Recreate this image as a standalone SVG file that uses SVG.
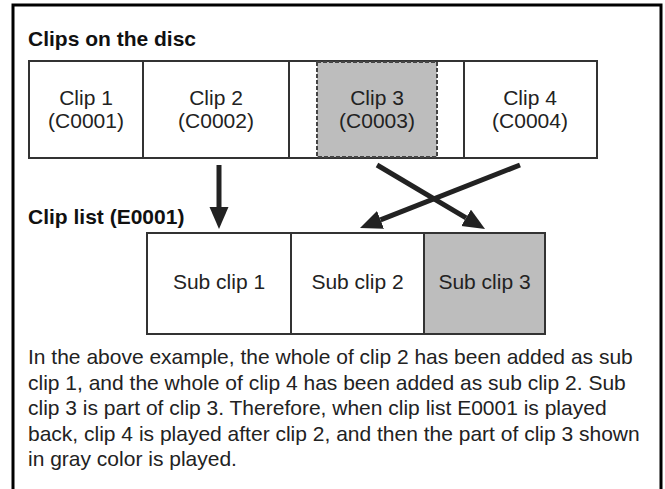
<svg xmlns="http://www.w3.org/2000/svg" width="665" height="489" viewBox="0 0 665 489">
<style>
  text { font-family: "Liberation Sans", Arial, sans-serif; font-size: 21px; fill: #222; }
  .title { font-weight: bold; fill: #111; }
  .lbl { text-anchor: middle; }
  .box { fill: #fff; stroke: #333; stroke-width: 2; }
  .gray { fill: #bdbdbd; }
  .div { stroke: #333; stroke-width: 2; fill: none; }
  .dash { fill: #bdbdbd; stroke: #444; stroke-width: 2; stroke-dasharray: 4 2; }
  .conn { stroke: #222; stroke-width: 5; fill: none; }
</style>
<defs>
  <marker id="ah" markerUnits="userSpaceOnUse" markerWidth="24" markerHeight="20" refX="0" refY="9.5" orient="auto">
    <path d="M0,0 L22,9.5 L0,19 Z" fill="#222"/>
  </marker>
</defs>
<rect width="665" height="489" fill="#fff"/>
<path d="M13,495 V5 H661 V495" fill="none" stroke="#000" stroke-width="3"/>

<text class="title" x="28" y="46">Clips on the disc</text>
<text class="title" x="28" y="224">Clip list (E0001)</text>

<g id="disc-row">
  <rect class="box" x="29" y="61" width="568" height="97"/>
  <line class="div" x1="143" y1="61" x2="143" y2="158"/>
  <line class="div" x1="289" y1="61" x2="289" y2="158"/>
  <line class="div" x1="464" y1="61" x2="464" y2="158"/>
</g>
<g id="clip1">
  <text class="lbl" x="86" y="105">Clip 1</text>
  <text class="lbl" x="86" y="128">(C0001)</text>
</g>
<g id="clip2">
  <text class="lbl" x="216" y="105">Clip 2</text>
  <text class="lbl" x="216" y="128">(C0002)</text>
</g>
<g id="clip3">
  <rect class="dash" x="317" y="62" width="120" height="95"/>
  <text class="lbl" x="377" y="105">Clip 3</text>
  <text class="lbl" x="377" y="128">(C0003)</text>
</g>
<g id="clip4">
  <text class="lbl" x="530" y="105">Clip 4</text>
  <text class="lbl" x="530" y="128">(C0004)</text>
</g>

<g id="subclip1">
  <rect class="box" x="147" y="233" width="144" height="101"/>
  <text class="lbl" x="219" y="289">Sub clip 1</text>
</g>
<g id="subclip2">
  <rect class="box" x="291" y="233" width="133" height="101"/>
  <text class="lbl" x="357.5" y="289">Sub clip 2</text>
</g>
<g id="subclip3">
  <rect class="box gray" x="424" y="233" width="121" height="101"/>
  <text class="lbl" x="484.5" y="289">Sub clip 3</text>
</g>

<g id="connectors">
  <line class="conn" x1="219" y1="165" x2="219" y2="207" marker-end="url(#ah)"/>
  <line class="conn" x1="377" y1="165" x2="466.1" y2="217.8" marker-end="url(#ah)"/>
  <line class="conn" x1="520" y1="165" x2="380.5" y2="219.9" marker-end="url(#ah)"/>
</g>

<g id="note">
  <text x="28" y="364">In the above example, the whole of clip 2 has been added as sub</text>
  <text x="28" y="389.5">clip 1, and the whole of clip 4 has been added as sub clip 2. Sub</text>
  <text x="28" y="415">clip 3 is part of clip 3. Therefore, when clip list E0001 is played</text>
  <text x="28" y="440.5">back, clip 4 is played after clip 2, and then the part of clip 3 shown</text>
  <text x="28" y="466">in gray color is played.</text>
</g>
</svg>
